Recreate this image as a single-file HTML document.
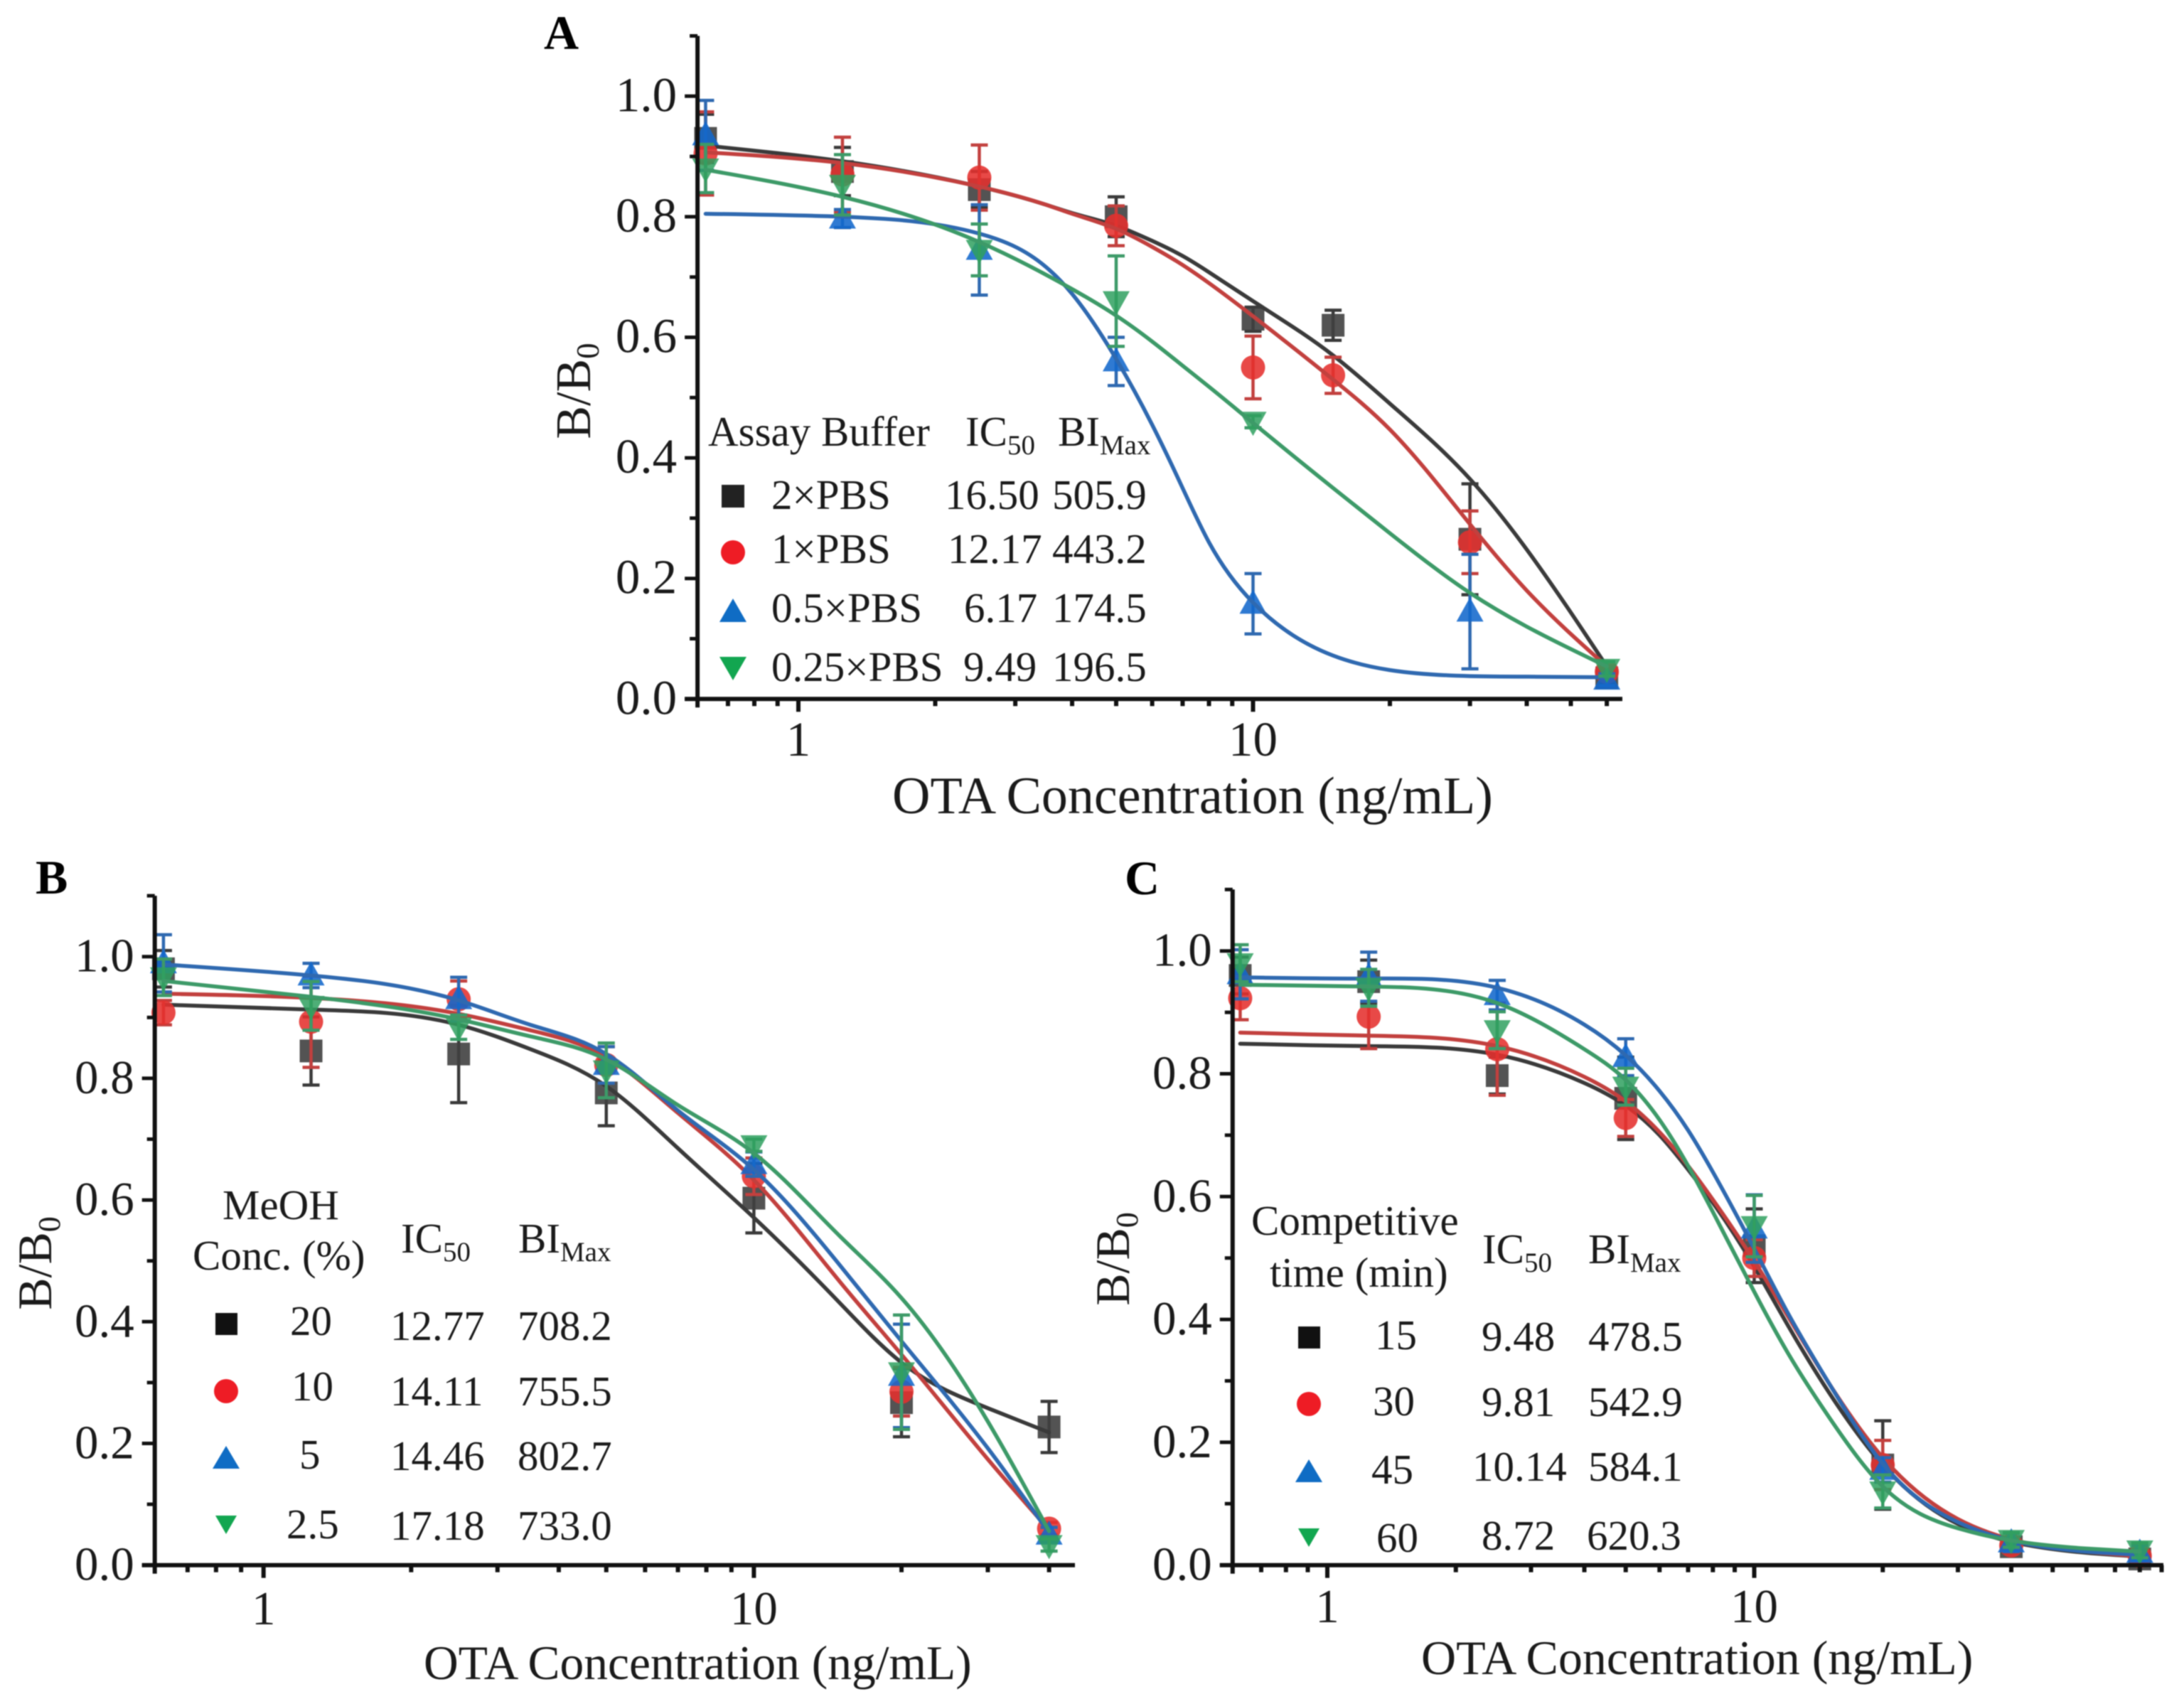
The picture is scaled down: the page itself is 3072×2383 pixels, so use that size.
<!DOCTYPE html>
<html lang="en">
<head>
<meta charset="utf-8">
<title>OTA competition curves</title>
<style>
html,body{margin:0;padding:0;background:#fff;width:3072px;height:2383px;overflow:hidden}
svg{display:block;filter:blur(0.7px)}
text{font-family:"Liberation Serif","Times New Roman",serif;fill:#1a1a1a}
.lg{font-size:59px}
.sub{font-size:39px}
</style>
</head>
<body>
<svg id="figure" xmlns="http://www.w3.org/2000/svg" width="3072" height="2383" viewBox="0 0 3072 2383">
<rect width="3072" height="2383" fill="#fff"/>

<text x="765" y="69" font-size="68" font-weight="bold" style="fill:#000">A</text>
<text x="50" y="1257" font-size="68" font-weight="bold" style="fill:#000">B</text>
<text x="1582" y="1258" font-size="68" font-weight="bold" style="fill:#000">C</text>

<text x="1255" y="1144" font-size="74">OTA Concentration (ng/mL)</text>
<text x="596" y="2362" font-size="67.5">OTA Concentration (ng/mL)</text>
<text x="1999" y="2355" font-size="68">OTA Concentration (ng/mL)</text>

<text transform="translate(830,550) rotate(-90)" text-anchor="middle" font-size="70">B/B<tspan dy="12" font-size="45">0</tspan></text>
<text transform="translate(72,1777) rotate(-90)" text-anchor="middle" font-size="68">B/B<tspan dy="12" font-size="44">0</tspan></text>
<text transform="translate(1588,1771) rotate(-90)" text-anchor="middle" font-size="68">B/B<tspan dy="12" font-size="44">0</tspan></text>

<g id="plots"></g>

<g>
  <text class="lg" x="996" y="627">Assay Buffer</text>
  <text class="lg" x="1358" y="627">IC<tspan class="sub" dy="12">50</tspan></text>
  <text class="lg" x="1488" y="627">BI<tspan class="sub" dy="12">Max</tspan></text>
  <rect x="1015" y="682" width="32" height="32" fill="#222"/>
  <circle cx="1031" cy="777" r="17" fill="#ee1c25"/>
  <polygon points="1031,842 1050,875 1012,875" fill="#0f6cc4"/>
  <polygon points="1012,924 1050,924 1031,957" fill="#12a650"/>
  <text class="lg" x="1085" y="716">2×PBS</text>
  <text class="lg" x="1085" y="792">1×PBS</text>
  <text class="lg" x="1085" y="875">0.5×PBS</text>
  <text class="lg" x="1085" y="958">0.25×PBS</text>
  <text class="lg" x="1329" y="716">16.50</text>
  <text class="lg" x="1333" y="792">12.17</text>
  <text class="lg" x="1356" y="875">6.17</text>
  <text class="lg" x="1355" y="958">9.49</text>
  <text class="lg" x="1480" y="716">505.9</text>
  <text class="lg" x="1480" y="792">443.2</text>
  <text class="lg" x="1480" y="875">174.5</text>
  <text class="lg" x="1480" y="958">196.5</text>
</g>

<g>
  <text class="lg" x="313" y="1715">MeOH</text>
  <text class="lg" x="271" y="1786">Conc. (%)</text>
  <text class="lg" x="564" y="1762">IC<tspan class="sub" dy="12">50</tspan></text>
  <text class="lg" x="729" y="1762">BI<tspan class="sub" dy="12">Max</tspan></text>
  <rect x="303" y="1847" width="31" height="31" fill="#111"/>
  <circle cx="318" cy="1957" r="17" fill="#ee1c25"/>
  <polygon points="318,2034 337,2066 299,2066" fill="#0f6cc4"/>
  <polygon points="303,2132 333,2132 318,2158" fill="#12a650"/>
  <text class="lg" x="408" y="1878">20</text>
  <text class="lg" x="410" y="1970">10</text>
  <text class="lg" x="421" y="2066">5</text>
  <text class="lg" x="403" y="2164">2.5</text>
  <text class="lg" x="549" y="1885">12.77</text>
  <text class="lg" x="549" y="1977">14.11</text>
  <text class="lg" x="549" y="2068">14.46</text>
  <text class="lg" x="549" y="2166">17.18</text>
  <text class="lg" x="728" y="1885">708.2</text>
  <text class="lg" x="728" y="1977">755.5</text>
  <text class="lg" x="728" y="2068">802.7</text>
  <text class="lg" x="728" y="2166">733.0</text>
</g>

<g>
  <text class="lg" x="1760" y="1737">Competitive</text>
  <text class="lg" x="1786" y="1810">time (min)</text>
  <text class="lg" x="2085" y="1777">IC<tspan class="sub" dy="12">50</tspan></text>
  <text class="lg" x="2234" y="1777">BI<tspan class="sub" dy="12">Max</tspan></text>
  <rect x="1826" y="1866" width="31" height="31" fill="#111"/>
  <circle cx="1841" cy="1975" r="17" fill="#ee1c25"/>
  <polygon points="1841,2053 1860,2085 1822,2085" fill="#0f6cc4"/>
  <polygon points="1826,2150 1856,2150 1841,2176" fill="#12a650"/>
  <text class="lg" x="1934" y="1898">15</text>
  <text class="lg" x="1931" y="1991">30</text>
  <text class="lg" x="1929" y="2087">45</text>
  <text class="lg" x="1936" y="2183">60</text>
  <text class="lg" x="2084" y="1900">9.48</text>
  <text class="lg" x="2084" y="1992">9.81</text>
  <text class="lg" x="2071" y="2083">10.14</text>
  <text class="lg" x="2084" y="2180">8.72</text>
  <text class="lg" x="2234" y="1900">478.5</text>
  <text class="lg" x="2234" y="1992">542.9</text>
  <text class="lg" x="2234" y="2083">584.1</text>
  <text class="lg" x="2232" y="2180">620.3</text>
</g>
</svg>

<script>
// ---------- shared tick labels ----------
const yMajorTicks = [0, 0.2, 0.4, 0.6, 0.8, 1.0];
const yMinorTicks = [0.1, 0.3, 0.5, 0.7, 0.9, 1.1];
const xMajorTicks = [1, 10];
const xMinorTicksA = [0.7, 0.8, 0.9, 2, 3, 4, 5, 6, 7, 8, 9, 20, 30, 40, 50, 60];
const xMinorTicksB = [0.7, 0.8, 0.9, 2, 3, 4, 5, 6, 7, 8, 9, 20, 30, 40];
const xMinorTicksC = [0.7, 0.8, 0.9, 2, 3, 4, 5, 6, 7, 8, 9, 20, 30, 40, 50, 60, 70, 80, 90];

// ---------- panel A ----------
const concA = [0.625, 1.25, 2.5, 5, 10, 15, 30, 60];
const a2xValues = [0.93, 0.875, 0.845, 0.80, 0.63, 0.62, 0.265, 0.035];
const a2xErrors = [0.04, 0.04, 0.03, 0.033, 0.02, 0.025, 0.092, 0.01];
const a1xValues = [0.905, 0.87, 0.865, 0.785, 0.55, 0.537, 0.26, 0.045];
const a1xErrors = [0.069, 0.062, 0.054, 0.033, 0.052, 0.03, 0.052, 0.01];
const a05xValues = [0.935, 0.797, 0.745, 0.56, 0.158, null, 0.145, 0.032];
const a05xErrors = [0.058, 0.015, 0.075, 0.04, 0.05, null, 0.095, 0.01];
const a025xValues = [0.88, 0.853, 0.745, 0.66, 0.46, null, null, 0.05];
const a025xErrors = [0.04, 0.05, 0.043, 0.075, 0.01, null, null, 0.012];
const fitConcA = [0.625, 1.25, 2.5, 3.5, 4, 5, 6, 7, 8, 10, 15, 20, 30, 40, 60];
const a2xFit = [0.918, 0.892, 0.85, 0.82, 0.806, 0.785, 0.76, 0.735, 0.708, 0.66, 0.57, 0.49, 0.365, 0.248, 0.054];
const a1xFit = [0.907, 0.889, 0.85, 0.82, 0.805, 0.78, 0.75, 0.72, 0.69, 0.635, 0.53, 0.447, 0.29, 0.18, 0.054];
const a05xFit = [0.805, 0.80, 0.772, 0.717, 0.672, 0.564, 0.455, 0.35, 0.26, 0.16, 0.072, 0.048, 0.038, 0.037, 0.036];
const a025xFit = [0.878, 0.833, 0.758, 0.704, 0.68, 0.636, 0.593, 0.553, 0.518, 0.458, 0.35, 0.275, 0.176, 0.12, 0.054];

// ---------- panel B ----------
const concB = [0.625, 1.25, 2.5, 5, 10, 20, 40];
const b20Values = [0.98, 0.845, 0.84, 0.776, 0.603, 0.267, 0.227];
const b20Errors = [0.03, 0.056, 0.08, 0.054, 0.057, 0.056, 0.042];
const b10Values = [0.908, 0.893, 0.93, 0.822, 0.639, 0.285, 0.06];
const b10Errors = [0.02, 0.075, 0.03, 0.03, 0.03, 0.04, 0.01];
const b5Values = [0.989, 0.969, 0.93, 0.822, 0.659, 0.311, 0.05];
const b5Errors = [0.047, 0.02, 0.036, 0.03, 0.02, 0.085, 0.012];
const b25Values = [0.966, 0.919, 0.884, 0.813, 0.69, 0.317, 0.033];
const b25Errors = [0.03, 0.04, 0.02, 0.045, 0.01, 0.094, 0.01];
const fitConcB = [0.625, 1.25, 2.5, 3.5, 5, 7, 10, 15, 20, 30, 40];
const b20Fit = [0.921, 0.913, 0.888, 0.848, 0.787, 0.685, 0.571, 0.43, 0.333, 0.258, 0.218];
const b10Fit = [0.939, 0.932, 0.906, 0.879, 0.835, 0.743, 0.633, 0.465, 0.346, 0.174, 0.058];
const b5Fit = [0.987, 0.969, 0.928, 0.888, 0.84, 0.747, 0.65, 0.492, 0.368, 0.192, 0.053];
const b25Fit = [0.96, 0.934, 0.897, 0.869, 0.831, 0.756, 0.677, 0.54, 0.439, 0.236, 0.056];

// ---------- panel C ----------
const concC = [0.625, 1.25, 2.5, 5, 10, 20, 40, 80];
const c15Values = [0.96, 0.95, 0.797, 0.76, 0.52, 0.163, 0.03, 0.01];
const c15Errors = [0.03, 0.035, 0.03, 0.067, 0.06, 0.072, 0.01, 0.006];
const c30Values = [0.923, 0.893, 0.84, 0.728, 0.50, 0.163, 0.032, 0.015];
const c30Errors = [0.035, 0.052, 0.075, 0.03, 0.03, 0.04, 0.01, 0.006];
const c45Values = [0.962, 0.958, 0.928, 0.827, 0.548, 0.155, 0.037, 0.02];
const c45Errors = [0.04, 0.04, 0.024, 0.03, 0.055, 0.02, 0.015, 0.012];
const c60Values = [0.98, 0.94, 0.871, 0.779, 0.552, 0.12, 0.041, 0.024];
const c60Errors = [0.03, 0.03, 0.03, 0.03, 0.05, 0.027, 0.012, 0.012];
const fitConcC = [0.625, 1.25, 2.5, 4, 5, 6, 7, 8, 10, 12, 15, 20, 30, 40, 60, 80];
const c15Fit = [0.849, 0.845, 0.831, 0.785, 0.748, 0.70, 0.644, 0.59, 0.486, 0.39, 0.28, 0.163, 0.067, 0.038, 0.02, 0.014];
const c30Fit = [0.867, 0.862, 0.845, 0.795, 0.755, 0.705, 0.65, 0.595, 0.495, 0.405, 0.295, 0.175, 0.075, 0.042, 0.022, 0.014];
const c45Fit = [0.957, 0.955, 0.94, 0.88, 0.83, 0.772, 0.708, 0.64, 0.515, 0.41, 0.295, 0.165, 0.07, 0.04, 0.022, 0.017];
const c60Fit = [0.945, 0.942, 0.915, 0.84, 0.79, 0.725, 0.65, 0.575, 0.445, 0.345, 0.24, 0.128, 0.06, 0.04, 0.027, 0.022];

const SVGNS = 'http://www.w3.org/2000/svg';
const plots = document.getElementById('plots');
const COLORS = {
  black: {line: '#3a3a3a', mark: '#404040'},
  red: {line: '#c2403e', mark: '#e5302e'},
  blue: {line: '#2f69b0', mark: '#1268cc'},
  green: {line: '#3d9a68', mark: '#2fa05f'}
};

function make(tag, attrs, parent) {
  const n = document.createElementNS(SVGNS, tag);
  for (const k in attrs) n.setAttribute(k, attrs[k]);
  parent.appendChild(n);
  return n;
}

// Natural cubic spline through the read curve samples, emitted as Bezier segments
function splinePath(pts) {
  const n = pts.length;
  const h = [], a = [], b = [], c = [], r = [], M = new Array(n).fill(0);
  for (let i = 0; i < n - 1; i++) h[i] = pts[i + 1][0] - pts[i][0];
  for (let i = 1; i < n - 1; i++) {
    a[i] = h[i - 1];
    b[i] = 2 * (h[i - 1] + h[i]);
    c[i] = h[i];
    r[i] = 6 * ((pts[i + 1][1] - pts[i][1]) / h[i] - (pts[i][1] - pts[i - 1][1]) / h[i - 1]);
  }
  for (let i = 2; i < n - 1; i++) {
    const w = a[i] / b[i - 1];
    b[i] -= w * c[i - 1];
    r[i] -= w * r[i - 1];
  }
  for (let i = n - 2; i >= 1; i--) {
    M[i] = (r[i] - (i < n - 2 ? c[i] * M[i + 1] : 0)) / b[i];
  }
  let d = 'M' + pts[0][0].toFixed(1) + ',' + pts[0][1].toFixed(1);
  for (let i = 0; i < n - 1; i++) {
    const s = (pts[i + 1][1] - pts[i][1]) / h[i];
    const m0 = s - h[i] * (2 * M[i] + M[i + 1]) / 6;
    const m1 = s + h[i] * (M[i] + 2 * M[i + 1]) / 6;
    const t = h[i] / 3;
    d += 'C' + (pts[i][0] + t).toFixed(1) + ',' + (pts[i][1] + m0 * t).toFixed(1) + ' ' +
      (pts[i + 1][0] - t).toFixed(1) + ',' + (pts[i + 1][1] - m1 * t).toFixed(1) + ' ' +
      pts[i + 1][0].toFixed(1) + ',' + pts[i + 1][1].toFixed(1);
  }
  return d;
}

function drawMarker(kind, cx, cy, color, group) {
  let m;
  if (kind === 'square') {
    m = make('rect', {x: cx - 16, y: cy - 16, width: 32, height: 32, fill: color, opacity: 0.9}, group);
  } else if (kind === 'circle') {
    m = make('circle', {cx: cx, cy: cy, r: 17, fill: color, opacity: 0.88}, group);
  } else if (kind === 'up') {
    m = make('polygon', {points: (cx) + ',' + (cy - 20) + ' ' + (cx + 19) + ',' + (cy + 14) + ' ' + (cx - 19) + ',' + (cy + 14), fill: color, opacity: 0.88}, group);
  } else {
    m = make('polygon', {points: (cx - 19) + ',' + (cy - 14) + ' ' + (cx + 19) + ',' + (cy - 14) + ' ' + (cx) + ',' + (cy + 20), fill: color, opacity: 0.85}, group);
  }
  
  
}

function drawPanel(p) {
  const xScale = v => p.xOne + Math.log10(v) * p.decade;
  const yScale = v => p.yZero - v * p.yUnit;
  const g = make('g', {}, plots);
  
  

  // series first so the axes stay crisp on top
  p.series.forEach(s => {
    const sg = make('g', {}, g);
    
    
    s.values.forEach((v, i) => {
      if (v === null) return;
      const cx = xScale(p.conc[i]);
      const e = s.errors[i];
      const stem = make('line', {x1: cx, x2: cx, y1: yScale(v + e), y2: yScale(v - e), stroke: COLORS[s.color].line, 'stroke-width': 4.5}, sg);
      
      
      [v + e, v - e].forEach(end => {
        const cap = make('line', {x1: cx - 12, x2: cx + 12, y1: yScale(end), y2: yScale(end), stroke: COLORS[s.color].line, 'stroke-width': 4.5}, sg);
        
        
      });
    });
    s.values.forEach((v, i) => {
      if (v === null) return;
      drawMarker(s.marker, xScale(p.conc[i]), yScale(v), COLORS[s.color].mark, sg);
    });
    const pts = p.fitConc.map((c, i) => [xScale(c), yScale(s.fit[i])]);
    const curve = make('path', {d: splinePath(pts), fill: 'none', stroke: COLORS[s.color].line, 'stroke-width': 5.5, 'stroke-linecap': 'round'}, sg);
    
    
  });

  const left = xScale(0.6);
  const top = yScale(1.1);
  const axisColor = '#111';

  const yAxis = make('line', {x1: left, x2: left, y1: top, y2: p.yZero + 12, stroke: axisColor, 'stroke-width': 6}, g);
  
  

  const xAxis = make('line', {x1: left - 18, x2: p.xEnd, y1: p.yZero, y2: p.yZero, stroke: axisColor, 'stroke-width': 6}, g);
  
  

  yMajorTicks.forEach(v => {
    const t = make('line', {x1: left - 18, x2: left, y1: yScale(v), y2: yScale(v), stroke: axisColor, 'stroke-width': 5}, g);
    
    
    const lab = make('text', {x: left - 29, y: yScale(v) + 21, 'text-anchor': 'end', 'font-size': p.tickFont}, g);
    lab.textContent = v.toFixed(1);
    
    
  });
  yMinorTicks.forEach(v => {
    const t = make('line', {x1: left - 11, x2: left, y1: yScale(v), y2: yScale(v), stroke: axisColor, 'stroke-width': 5}, g);
    
    
  });
  xMajorTicks.forEach(v => {
    const t = make('line', {x1: xScale(v), x2: xScale(v), y1: p.yZero, y2: p.yZero + 18, stroke: axisColor, 'stroke-width': 6}, g);
    
    
    const lab = make('text', {x: xScale(v), y: p.xLabelY, 'text-anchor': 'middle', 'font-size': p.tickFont}, g);
    lab.textContent = String(v);
    
    
  });
  p.xMinor.forEach(v => {
    const t = make('line', {x1: xScale(v), x2: xScale(v), y1: p.yZero, y2: p.yZero + 10, stroke: axisColor, 'stroke-width': 6}, g);
    
    
  });
}

drawPanel({
  id: 'a', xOne: 1123, decade: 639.5, yZero: 983.3, yUnit: 848, xEnd: 2282, xLabelY: 1063, tickFont: 69,
  conc: concA, fitConc: fitConcA, xMinor: xMinorTicksA,
  series: [
    {name: '2x-pbs', color: 'black', marker: 'square', values: a2xValues, errors: a2xErrors, fit: a2xFit},
    {name: '1x-pbs', color: 'red', marker: 'circle', values: a1xValues, errors: a1xErrors, fit: a1xFit},
    {name: '0-5x-pbs', color: 'blue', marker: 'up', values: a05xValues, errors: a05xErrors, fit: a05xFit},
    {name: '0-25x-pbs', color: 'green', marker: 'down', values: a025xValues, errors: a025xErrors, fit: a025xFit}
  ]
});
drawPanel({
  id: 'b', xOne: 370.7, decade: 689.7, yZero: 2201.7, yUnit: 856, xEnd: 1512, xLabelY: 2285, tickFont: 67,
  conc: concB, fitConc: fitConcB, xMinor: xMinorTicksB,
  series: [
    {name: 'meoh-20', color: 'black', marker: 'square', values: b20Values, errors: b20Errors, fit: b20Fit},
    {name: 'meoh-10', color: 'red', marker: 'circle', values: b10Values, errors: b10Errors, fit: b10Fit},
    {name: 'meoh-5', color: 'blue', marker: 'up', values: b5Values, errors: b5Errors, fit: b5Fit},
    {name: 'meoh-2-5', color: 'green', marker: 'down', values: b25Values, errors: b25Errors, fit: b25Fit}
  ]
});
drawPanel({
  id: 'c', xOne: 1867, decade: 600.5, yZero: 2201.7, yUnit: 864, xEnd: 3043, xLabelY: 2282, tickFont: 67,
  conc: concC, fitConc: fitConcC, xMinor: xMinorTicksC,
  series: [
    {name: 'time-15', color: 'black', marker: 'square', values: c15Values, errors: c15Errors, fit: c15Fit},
    {name: 'time-30', color: 'red', marker: 'circle', values: c30Values, errors: c30Errors, fit: c30Fit},
    {name: 'time-45', color: 'blue', marker: 'up', values: c45Values, errors: c45Errors, fit: c45Fit},
    {name: 'time-60', color: 'green', marker: 'down', values: c60Values, errors: c60Errors, fit: c60Fit}
  ]
});
</script>
</body>
</html>
